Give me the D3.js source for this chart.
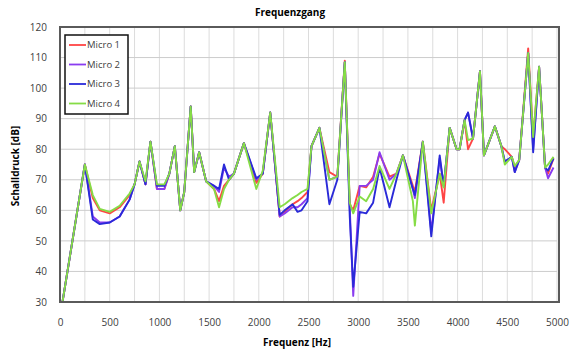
<!DOCTYPE html>
<html>
<head>
<meta charset="utf-8">
<script src="https://cdn.jsdelivr.net/npm/d3@7/dist/d3.min.js"></script>
<style>
  body { margin: 0; background: #fff; }
  svg { display: block; font-family: "Open Sans", "Liberation Sans", sans-serif; }
</style>
</head>
<body>
<div id="chart"></div>
<script>
// Frequenz [Hz]
const freq = [25, 250, 330, 400, 500, 600, 700, 750, 800, 860, 910, 975, 1050, 1100, 1155, 1210, 1250, 1315, 1350, 1400,
  1470, 1550, 1600, 1650, 1700, 1750, 1850, 1975, 2040, 2115, 2210, 2260, 2340, 2390, 2430, 2490, 2530, 2610, 2710, 2790,
  2865, 2915, 2950, 3015, 3080, 3150, 3215, 3315, 3385, 3450, 3550, 3570, 3650, 3735, 3820, 3860, 3920, 3990, 4020, 4070,
  4105, 4155, 4225, 4265, 4375, 4440, 4475, 4545, 4575, 4620, 4710, 4760, 4820, 4880, 4910, 4965];

// Schalldruck [dB] je Mikrofon
const micro1 = [30, 75, 64, 60, 59, 61, 65, 68.5, 76, 68.5, 82.5, 67, 67, 72, 81, 60, 66, 94, 72.5, 79,
  69.5, 67, 63, 68, 70, 72, 82, 69, 72, 92, 58, 59.5, 62, 63, 64, 66, 81, 87, 72.5, 71,
  109, 62, 60, 68, 67.5, 71, 78.5, 71, 72, 78, 68, 66, 82.5, 60, 72, 62.5, 87, 80, 80, 89.5,
  80, 83.5, 105.5, 78, 87.5, 81, 80, 77.5, 74, 76.5, 113, 84, 107, 74, 72, 77];
const micro2 = [30, 75, 58, 56, 56, 58, 63.5, 68.5, 76, 68.5, 82.5, 67, 67, 72, 81, 60, 66, 94, 72.5, 79,
  69.5, 68, 66, 74, 71, 72, 82, 70, 72, 92, 58, 59, 61, 61, 62, 64, 81, 87, 70, 71,
  108.5, 61, 32, 68, 68, 70, 79, 70, 72, 78, 67, 64, 82.5, 53, 77, 68, 87, 80, 80, 89.5,
  92, 83.5, 105.5, 78, 87.5, 81, 76, 77.5, 72.5, 76.5, 111.5, 80, 107, 74, 70.5, 74];
const micro3 = [30, 75, 57, 55.5, 56, 58, 63.5, 68.5, 76, 68.5, 82.5, 68, 68, 72, 81, 60, 66, 94, 72.5, 79,
  69.5, 68, 67, 75, 70, 72, 82, 70.5, 72, 92, 58.5, 60, 62, 59.5, 60, 63, 81, 87, 62, 70,
  108.5, 58, 35, 59.5, 59, 62.5, 74, 61, 70, 78, 67, 65, 82.5, 51.5, 78, 68, 87, 80, 80, 89.5,
  92, 83.5, 105.5, 78, 87.5, 81, 76, 77.5, 72.5, 76.5, 111.5, 79, 107, 74, 73, 77];
const micro4 = [30, 75, 65, 60.5, 59.5, 61.5, 65.5, 68.5, 76, 69.5, 82.5, 68.5, 68.5, 72, 81, 60, 66, 94, 72.5, 79,
  69.5, 67, 61, 67, 70, 72, 82, 67, 73, 92, 61, 62, 64, 65, 66, 67, 81, 87, 70, 71,
  108.5, 62.5, 59, 64.5, 63, 67, 74.5, 67, 72, 78, 63, 55, 82.5, 59, 72, 67.5, 87, 80, 80, 89.5,
  83, 83.5, 105.5, 78, 87.5, 81, 75, 77.5, 74.5, 76.5, 111.5, 84, 107, 74, 75, 77.5];

const seriesNames = ['Micro 1', 'Micro 2', 'Micro 3', 'Micro 4'];
const seriesColors = ['#ff4545', '#8a3cf0', '#2a2ad8', '#86dc46'];
const xTicks = [0, 500, 1000, 1500, 2000, 2500, 3000, 3500, 4000, 4500, 5000];
const yTicks = [30, 40, 50, 60, 70, 80, 90, 100, 110, 120];

const width = 576, height = 354;
const series = [micro1, micro2, micro3, micro4];

const svg = d3.select('#chart')
  .append('svg')
  .attr('width', width)
  .attr('height', height);

const x = d3.scaleLinear().domain([0, 5000]).range([60, 557]);
const y = d3.scaleLinear().domain([30, 120]).range([302, 27]);

// Gitterlinien
svg.append('g')
  .selectAll('line')
  .data(d3.range(0, 5001, 250))
  .enter()
  .append('line')
  .attr('x1', d => x(d)).attr('x2', d => x(d))
  .attr('y1', y(30)).attr('y2', y(120))
  .attr('stroke', '#dcdcdc')
  .attr('stroke-width', 1);

svg.append('g')
  .selectAll('line')
  .data(yTicks)
  .enter()
  .append('line')
  .attr('x1', x(0)).attr('x2', x(5000))
  .attr('y1', d => y(d)).attr('y2', d => y(d))
  .attr('stroke', '#cccccc')
  .attr('stroke-width', 1);

// Kurven
const line = d3.line()
  .x((d, i) => x(freq[i]))
  .y(d => y(d));

svg.append('g')
  .selectAll('path')
  .data(series)
  .enter()
  .append('path')
  .attr('d', d => line(d))
  .attr('fill', 'none')
  .attr('stroke', (d, i) => seriesColors[i])
  .attr('stroke-width', 1.9)
  .attr('stroke-linejoin', 'round');

// Rahmen
svg.append('rect')
  .attr('x', x(0))
  .attr('y', y(120))
  .attr('width', x(5000) - x(0) + 2)
  .attr('height', y(30) - y(120))
  .attr('fill', 'none')
  .attr('stroke', '#5a5a5a')
  .attr('stroke-width', 2);

// Achsen
const xAxis = svg.append('g')
  .attr('transform', `translate(0,${y(30)})`)
  .call(d3.axisBottom(x).tickValues(xTicks).tickSize(0).tickPadding(17).tickFormat(d3.format('d')));
const yAxis = svg.append('g')
  .attr('transform', `translate(${x(0)},0)`)
  .call(d3.axisLeft(y).tickValues(yTicks).tickSize(0).tickPadding(13).tickFormat(d3.format('d')));
[xAxis, yAxis].forEach(a => {
  a.select('.domain').remove();
  a.selectAll('text').attr('font-size', '10px').attr('fill', '#404040')
    .attr('font-family', '"Open Sans", sans-serif');
});

// Titel und Achsenbeschriftungen
svg.append('text')
  .attr('x', 290).attr('y', 16)
  .attr('text-anchor', 'middle')
  .attr('font-size', '10px').attr('font-weight', 'bold')
  .text('Frequenzgang');

svg.append('text')
  .attr('x', 297).attr('y', 346)
  .attr('text-anchor', 'middle')
  .attr('font-size', '10px').attr('font-weight', 'bold')
  .text('Frequenz [Hz]');

svg.append('text')
  .attr('transform', 'translate(19,166) rotate(-90)')
  .attr('text-anchor', 'middle')
  .attr('font-size', '10px').attr('font-weight', 'bold')
  .text('Schalldruck [dB]');

// Legende
const legend = svg.append('g').attr('transform', 'translate(65,35)');
legend.append('rect')
  .attr('width', 63).attr('height', 79)
  .attr('fill', '#fff')
  .attr('stroke', '#111')
  .attr('stroke-width', 1.5);

const items = legend.selectAll('g.item')
  .data(seriesNames)
  .enter()
  .append('g')
  .attr('class', 'item')
  .attr('transform', (d, i) => `translate(0,${10 + i * 19.5})`);

items.append('line')
  .attr('x1', 4).attr('x2', 21)
  .attr('stroke', (d, i) => seriesColors[i])
  .attr('stroke-width', 1.8);

items.append('text')
  .attr('x', 22).attr('dy', '0.35em')
  .attr('font-size', '9.5px').attr('fill', '#404040')
  .text(d => d);
</script>
</body>
</html>
